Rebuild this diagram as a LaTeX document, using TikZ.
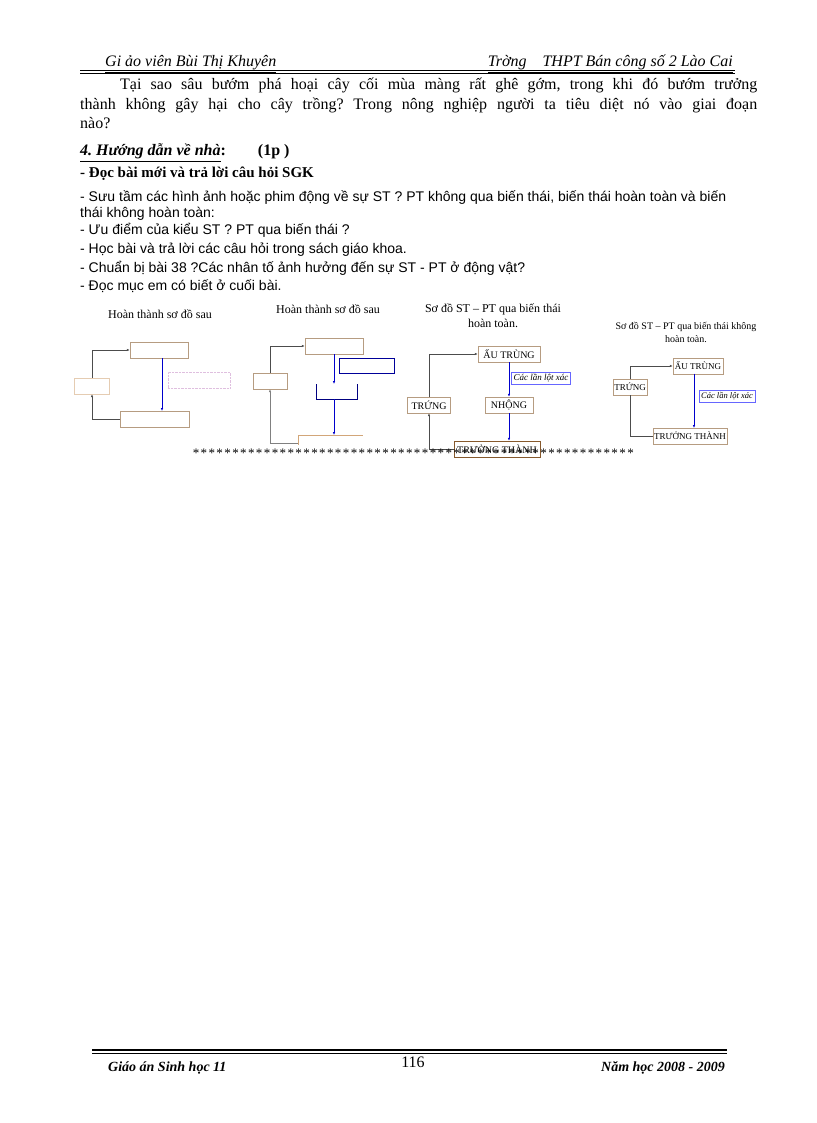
\documentclass[tikz,border=0pt]{standalone}
\usepackage{fontspec}
\setmainfont{Liberation Serif}
\setsansfont{Liberation Sans}
\usetikzlibrary{arrows.meta}
\frenchspacing
\begin{document}
\begin{tikzpicture}[x=1pt,y=-1pt,
  tx/.style={inner sep=0pt,anchor=west,font=\fontsize{16}{18}\selectfont},
  sx/.style={inner sep=0pt,anchor=west,font=\sffamily\fontsize{14}{15}\selectfont},
  ttl/.style={inner sep=0pt,font=\fontsize{12}{15}\selectfont,align=center},
  bx/.style={draw=brown!70!black!60,fill=white,minimum height=16pt,inner sep=1pt,font=\fontsize{10}{11}\selectfont},
  bl/.style={draw=blue!60,fill=white,inner sep=2pt,font=\itshape\fontsize{9}{10}\selectfont},
  gl/.style={draw=black!70,line width=0.7pt},
  bar/.style={draw=blue!80!black,line width=0.7pt},
  ar/.style={-{Latex[length=3pt,width=2.5pt]}}]
\useasboundingbox (0,0) rectangle (816,1123);
% header
\node[inner sep=0pt,anchor=base west,font=\itshape\fontsize{16}{18}\selectfont] (h1) at (105,67) {\underline{Gi ảo viên Bùi Thị Khuyên}};
\node[inner sep=0pt,anchor=base east,font=\itshape\fontsize{16}{18}\selectfont] (h2) at (733,67) {\underline{Trờng\quad THPT Bán công số 2 Lào Cai}};
\draw[line width=1.2pt] (80,70.5) -- (735,70.5);
\draw[line width=0.5pt] (80,73) -- (735,73);
% paragraph
\node[tx,anchor=base west] (p1) at (120,90) {\makebox[637pt][s]{Tại sao sâu bướm phá hoại cây cối mùa màng rất ghê gớm, trong khi đó bướm trưởng}};
\node[tx,anchor=base west] (p2) at (80,110) {\makebox[677pt][s]{thành không gây hại cho cây trồng? Trong nông nghiệp người ta tiêu diệt nó vào giai đoạn}};
\node[tx,anchor=base west] (p3) at (80,129) {nào?};
\node[tx,anchor=base west,font=\bfseries\fontsize{16}{18}\selectfont] (s4) at (80,156) {\underline{\itshape 4. Hướng dẫn về nhà}:\qquad (1p )};
\node[tx,anchor=base west,font=\bfseries\fontsize{15}{18}\selectfont] (s5) at (80,178) {- Đọc bài mới và trả lời câu hỏi SGK};
\node[sx,anchor=base west] (l1) at (80,202) {- Sưu tầm các hình ảnh hoặc phim động về sự ST ? PT không qua biến thái, biến thái hoàn toàn và biến};
\node[sx,anchor=base west] (l2) at (80,218) {thái không hoàn toàn:};
\node[sx,anchor=base west] (l3) at (80,235) {- Ưu điểm của kiểu ST ? PT qua biến thái ?};
\node[sx,anchor=base west] (l4) at (80,254) {- Học bài và trả lời các câu hỏi trong sách giáo khoa.};
\node[sx,anchor=base west] (l5) at (80,272) {- Chuẩn bị bài 38 ?Các nhân tố ảnh hưởng đến sự ST - PT ở động vật?};
\node[sx,anchor=base west] (l6) at (80,290) {- Đọc mục em có biết ở cuối bài.};
% diagram 1
\node[ttl] (t1) at (160,314) {Hoàn thành sơ đồ sau};
\node[bx,minimum width=58pt] (a1) at (159,350) {};
\node[bx,minimum width=35pt,draw=brown!40] (b1) at (92,386) {};
\node[draw=violet!25,densely dotted,minimum width=62pt,minimum height=16pt] (c1) at (199,380) {};
\node[bx,minimum width=69pt] (d1) at (155,419) {};
\draw[gl,ar] (b1.north) |- (a1.west);
\draw[bar,ar] (162,358) -- (162,411);
\draw[gl,ar] (d1.west) -| (b1.south);
% diagram 2
\node[ttl] (t2) at (328,309) {Hoàn thành sơ đồ sau};
\node[bx,minimum width=58pt] (a2) at (334,346) {};
\node[draw=blue!60!black,minimum width=55pt,minimum height=15pt] (r2) at (367,366) {};
\node[bx,minimum width=34pt] (b2) at (270,381) {};
\draw[draw=blue!50!black,line width=0.7pt] (316,384) -- (316,399) -- (357,399) -- (357,384);
\coordinate (m2) at (334,384);
\coordinate (m2b) at (334,399);
\coordinate (d2) at (334,435);
\draw[draw=brown!70,line width=0.7pt] (298,445) -- (298,435) -- (363,435);
\coordinate (d2l) at (298,443);
\draw[gl,ar] (b2.north) |- (a2.west);
\draw[bar,ar] (a2.south -| m2) -- (m2);
\draw[bar,ar] (m2b) -- (d2);
\draw[gl,draw=black!50,ar] (d2l) -| (b2.south);
% diagram 3
\node[ttl] (t3) at (493,316) {Sơ đồ ST -- PT qua biến thái\\hoàn toàn.};
\node[bx,minimum width=62pt] (a3) at (509,354) {ẤU TRÙNG};
\node[bl] (c3) at (541,378) {Các lần lột xác};
\node[bx,minimum width=43pt] (b3) at (429,405) {TRỨNG};
\node[bx,minimum width=48pt] (n3) at (509,405) {NHỘNG};
\node[bx,draw=brown!70!black,minimum width=86pt] (d3) at (497,449) {TRƯỞNG THÀNH};
\draw[gl,ar] (b3.north) |- (a3.west);
\draw[bar,ar] (a3.south) -- (n3.north);
\draw[bar,ar] (n3.south) -- (n3.south |- d3.north);
\draw[gl,ar] (d3.west) -| (b3.south);
% diagram 4
\node[ttl,font=\fontsize{10}{13}\selectfont] (t4) at (686,332) {Sơ đồ ST -- PT qua biến thái không\\hoàn toàn.};
\node[bx,font=\fontsize{9}{10}\selectfont,minimum width=50pt] (a4) at (698,366) {ẤU TRÙNG};
\node[bx,font=\fontsize{9}{10}\selectfont,minimum width=33pt] (b4) at (630,387) {TRỨNG};
\node[bl,font=\itshape\fontsize{8.5}{10}\selectfont] (c4) at (727,396) {Các lần lột xác};
\node[bx,font=\fontsize{9}{10}\selectfont,minimum width=70pt] (d4) at (690,436) {TRƯỞNG THÀNH};
\draw[gl,ar] (b4.north) |- (a4.west);
\draw[bar,ar] (694,373.5) -- (694,428);
\draw[gl] (b4.south) |- (d4.west);
% stars
\foreach \i in {0,...,55} {\node[inner sep=0pt,font=\fontsize{13}{13}\selectfont] (st\i) at (196+\i*7.9,453) {*};}
% footer
\draw[line width=1.2pt] (92,1050) -- (727,1050);
\draw[line width=0.5pt] (92,1053) -- (727,1053);
\node[inner sep=0pt,font=\fontsize{16}{18}\selectfont] (pg) at (413,1062) {116};
\node[inner sep=0pt,anchor=west,font=\bfseries\itshape\fontsize{14}{16}\selectfont] (f1) at (108,1068) {Giáo án Sinh học 11};
\node[inner sep=0pt,anchor=east,font=\bfseries\itshape\fontsize{14}{16}\selectfont] (f2) at (725,1068) {Năm học 2008 - 2009};
\end{tikzpicture}
\end{document}
